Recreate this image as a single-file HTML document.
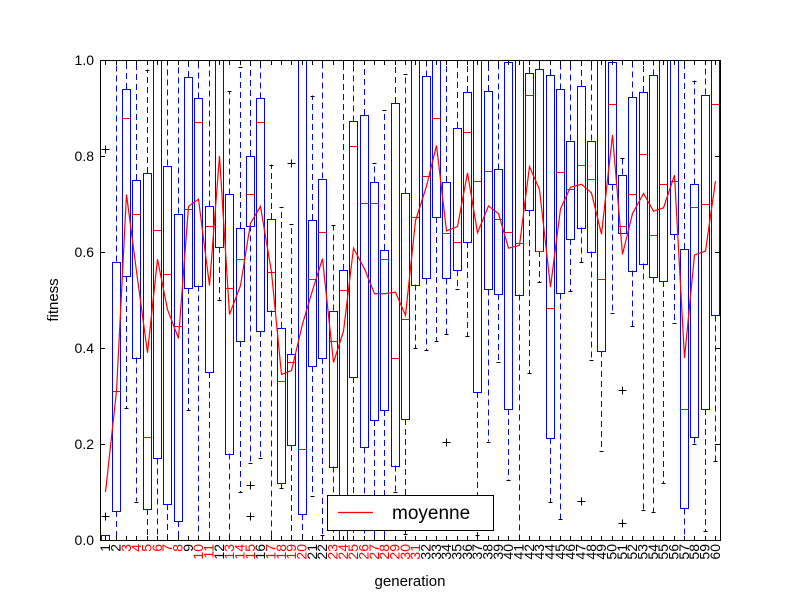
<!DOCTYPE html>
<html><head><meta charset="utf-8"><style>
body{margin:0;background:#fff;}
svg text{font-family:"Liberation Sans","DejaVu Sans",sans-serif;}
</style></head><body>
<svg id="chart" width="800" height="600" viewBox="0 0 800 600" xmlns="http://www.w3.org/2000/svg">
<rect x="0" y="0" width="800" height="600" fill="#fff"/>
<g id="plot"></g>
<g id="xt"></g>
<g id="yt"></g>
<rect x="100.5" y="60.5" width="620" height="480" fill="none" stroke="#000" stroke-width="1"/>
<text x="410" y="586" font-size="15" text-anchor="middle">generation</text>
<text transform="translate(58,300) rotate(-90)" font-size="15" text-anchor="middle">fitness</text>
<g>
<rect x="327.5" y="495.5" width="166" height="35" fill="#fff" stroke="#000"/>
<line x1="338" y1="512.5" x2="373" y2="512.5" stroke="red" stroke-width="1.2"/>
<text x="392" y="519" font-size="19">moyenne</text>
</g>
</svg>
<script>
const q1 = [0,0.06,0.55,0.38,0.065,0.17,0.075,0.04,0.525,0.53,0.35,0.61,0.18,0.415,0.655,0.435,0.478,0.119,0.198,0.054,0.363,0.379,0.153,0,0.34,0.193,0.25,0.271,0.155,0.252,0.532,0.545,0.673,0.545,0.563,0.621,0.308,0.522,0.513,0.273,0.511,0.687,0.602,0.212,0.514,0.627,0.651,0.601,0.394,0.741,0.64,0.561,0.576,0.547,0.54,0.637,0.066,0.214,0.273,0.468];
const q3 = [0.01,0.58,0.94,0.75,0.765,1.0,0.78,0.68,0.965,0.92,0.695,1.0,0.72,0.65,0.80,0.92,0.669,0.442,0.388,1.0,0.667,0.753,0.478,0.563,0.872,0.885,0.745,0.604,0.91,0.722,1.0,0.966,1.0,0.746,0.858,0.933,1.0,0.935,0.772,0.996,1.0,0.973,0.981,0.969,0.939,0.832,0.946,0.832,1.0,0.996,0.761,0.922,0.933,0.968,1.0,1.0,0.606,0.741,0.928,1.0];
const medians = [0,0.31,0.88,0.68,0.215,0.645,0.555,0.445,0.69,0.87,0.655,1.0,0.525,0.585,0.72,0.87,0.558,0.331,0.37,0.19,0.543,0.642,0.414,0.52,0.82,0.702,0.703,0.586,0.38,0.46,0.673,0.759,0.879,0.64,0.62,0.849,0.747,0.768,0.669,0.642,0.619,0.927,0.602,0.484,0.766,0.732,0.782,0.752,0.543,0.908,0.655,0.721,0.804,0.635,0.741,0.747,0.273,0.694,0.701,0.908];
const whiskLow = [0,0,0.275,0.08,0,0,0,0,0.27,0,0,0.5,0,0.1,0.16,0.17,0,0.108,0,0,0.091,0.01,0,0,0,0,0,0,0.099,0.012,0.4,0.396,0.414,0.429,0.523,0.424,0.01,0.205,0.37,0.126,0,0.347,0.537,0.079,0.043,0.519,0.579,0.376,0.186,0.473,0.64,0.446,0.063,0.058,0.119,0.452,0,0.2,0.018,0.165];
const whiskHigh = [0.01,1,1,1,0.98,1,1,1,1,1,1,1,0.935,0.985,1,1,0.782,0.694,0.658,1,0.926,1,0.656,1,1,1,0.786,0.896,1,0.971,1,1,1,1,1,1,1,1,1,1,1,1,1,1,1,1,1,1,1,1,0.796,1,1,1,1,1,1,0.957,1,1];
const means = [0.1,0.31,0.72,0.56,0.39,0.585,0.48,0.42,0.695,0.71,0.53,0.8,0.47,0.53,0.66,0.695,0.558,0.345,0.353,0.45,0.52,0.586,0.37,0.435,0.608,0.565,0.513,0.513,0.516,0.468,0.665,0.737,0.822,0.644,0.653,0.765,0.64,0.696,0.68,0.608,0.614,0.778,0.73,0.527,0.69,0.735,0.741,0.723,0.637,0.844,0.595,0.68,0.722,0.685,0.692,0.76,0.379,0.594,0.602,0.748];
const flierGen = [1,1,15,15,19,34,47,51,51];
const flierVal = [0.815,0.05,0.115,0.05,0.786,0.204,0.081,0.313,0.036];
const redLabels = [3,4,5,6,7,8,10,11,13,14,15,17,18,19,20,23,24,25,26,27,28,29,30,31];
const yTicks = [0,0.2,0.4,0.6,0.8,1.0];
const yTickLabels = ["0.0","0.2","0.4","0.6","0.8","1.0"];

const NS="http://www.w3.org/2000/svg";
const X0=100,X1=720,Y0=540,Y1=60,N=60;
const xs=g=>Math.round(X0+(g-0.5)*(X1-X0)/N)+0.5;
const xr=g=>X0+(g-0.5)*(X1-X0)/N;
const ys=v=>Y0-v*(Y0-Y1);
const yp=v=>Math.round(ys(v))+0.5;
function mk(tag,attrs,parent){const e=document.createElementNS(NS,tag);for(const k in attrs)e.setAttribute(k,attrs[k]);parent.appendChild(e);return e;}
const plot=document.getElementById('plot');
const hw=4;
for(let i=0;i<N;i++){
  const g=i+1,x=xs(g);
  const grp=mk('g',{},plot);
  
  
  if(q1[i]>whiskLow[i]){
    const w=mk('line',{x1:x,x2:x,y1:ys(q1[i]),y2:ys(whiskLow[i]),stroke:'#0000ff','stroke-width':1.3,'stroke-dasharray':'6,4','shape-rendering':'crispEdges'},grp);
    
    
    if(whiskLow[i]>0.005){const c=mk('line',{x1:x-2,x2:x+2,y1:yp(whiskLow[i]),y2:yp(whiskLow[i]),stroke:'#000','shape-rendering':'crispEdges'},grp);
    
    }
  }
  if(whiskHigh[i]>q3[i]){
    const w=mk('line',{x1:x,x2:x,y1:ys(q3[i]),y2:ys(whiskHigh[i]),stroke:'#0000ff','stroke-width':1.3,'stroke-dasharray':'6,4','shape-rendering':'crispEdges'},grp);
    
    
    if(whiskHigh[i]<0.995){const c=mk('line',{x1:x-2,x2:x+2,y1:yp(whiskHigh[i]),y2:yp(whiskHigh[i]),stroke:'#000','shape-rendering':'crispEdges'},grp);
    
    }
  }
  const b=mk('rect',{x:x-hw,y:yp(q3[i]),width:2*hw,height:Math.max(yp(q1[i])-yp(q3[i]),1),fill:'none',stroke:'#0000ff','stroke-width':1.3,'shape-rendering':'crispEdges'},grp);
  
  
  const m=mk('line',{x1:x-hw,x2:x+hw,y1:yp(medians[i]),y2:yp(medians[i]),stroke:'red','stroke-width':1.3,'shape-rendering':'crispEdges'},grp);
  
  
}
for(let j=0;j<flierGen.length;j++){
  const x=xs(flierGen[j]),y=yp(flierVal[j]);
  const t=mk('path',{d:`M${x-4},${y}H${x+4}M${x},${y-4}V${y+4}`,stroke:'#000','stroke-width':1,fill:'none','shape-rendering':'crispEdges'},plot);
  
  
}
let d='';
for(let i=0;i<N;i++){d+=(i?'L':'M')+xs(i+1).toFixed(2)+','+ys(means[i]).toFixed(2);}
const ml=mk('path',{d:d,fill:'none',stroke:'red','stroke-width':1.2},plot);


const xt=document.getElementById('xt');
for(let g=1;g<=N;g++){
  const x=xs(g);
  mk('path',{d:`M${x},540v-4M${x},61v4`,stroke:'#000','stroke-width':1,'shape-rendering':'crispEdges'},xt);
  const t=mk('text',{transform:`translate(${xr(g)+5},${544}) rotate(-90)`,'font-size':14,'text-anchor':'end',fill:redLabels.includes(g)?'red':'#000'},xt);
  
  
  t.textContent=String(g);
}
const yt=document.getElementById('yt');
for(let k=0;k<yTicks.length;k++){
  const y=yp(yTicks[k]);
  mk('path',{d:`M100,${y}h5M720,${y}h-5`,stroke:'#000','stroke-width':1,'shape-rendering':'crispEdges'},yt);
  const t=mk('text',{x:94,y:ys(yTicks[k])+5,'font-size':14,'text-anchor':'end'},yt);
  
  
  t.textContent=yTickLabels[k];
}
</script>
</body></html>
